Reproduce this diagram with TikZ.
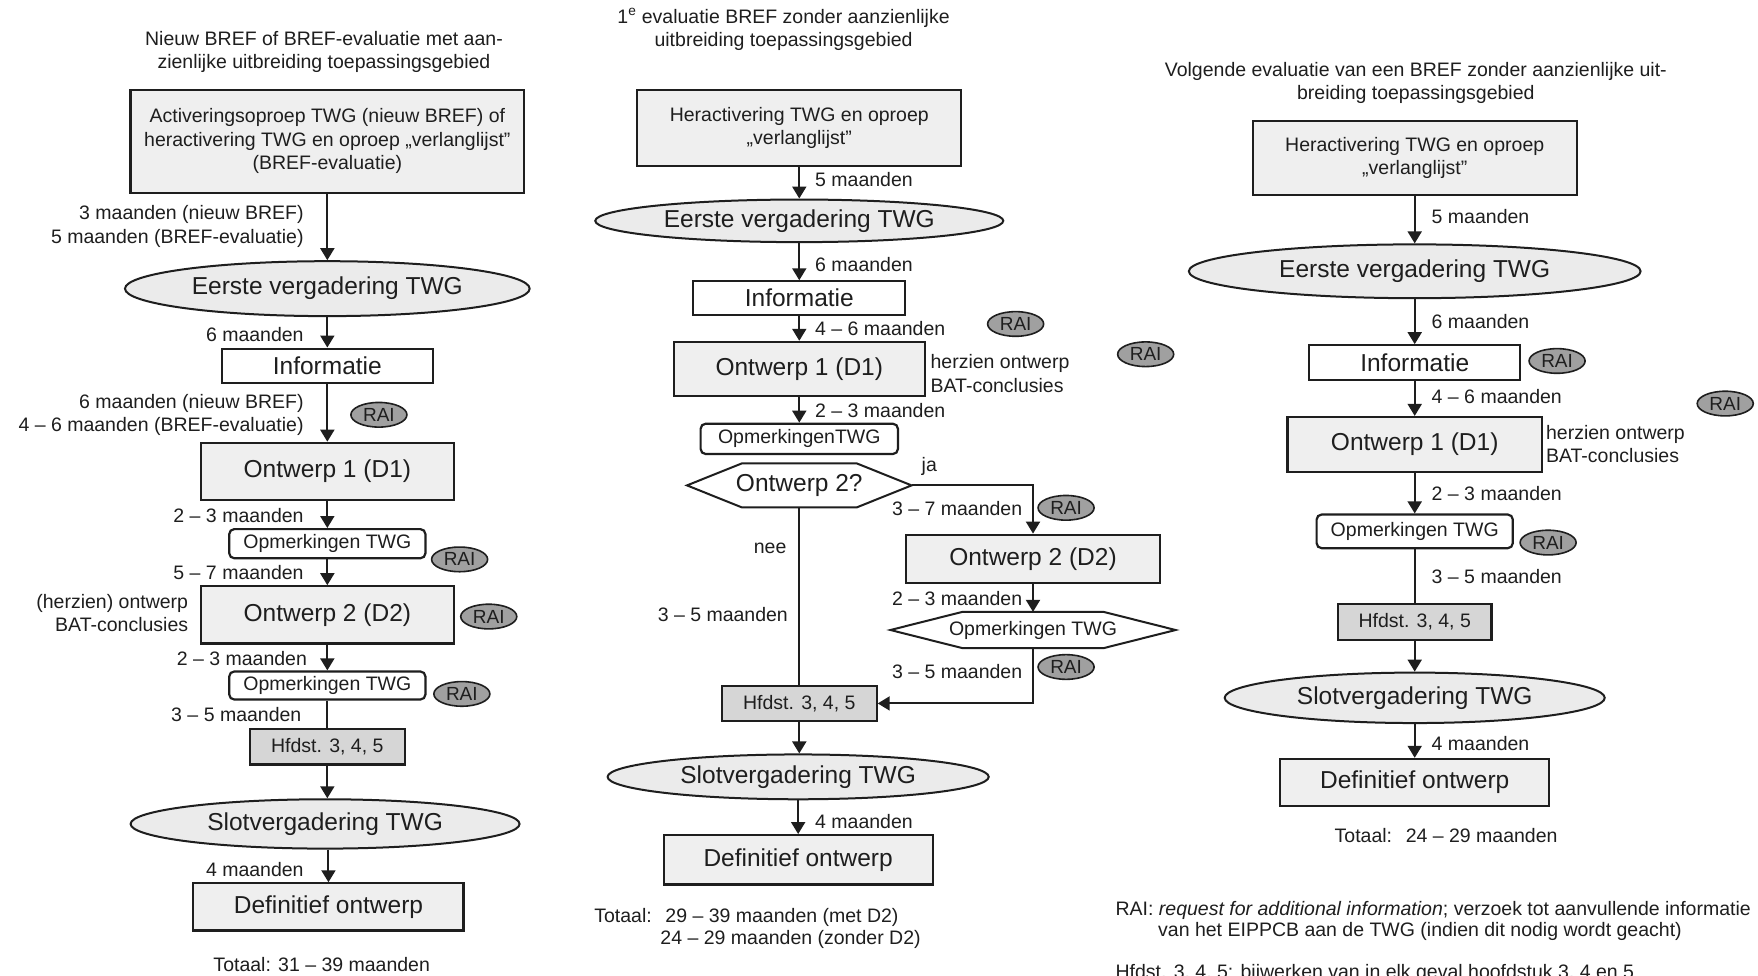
\documentclass[tikz,border=0pt]{standalone}
\usepackage{fontspec}
\setmainfont{Liberation Sans}
\usetikzlibrary{arrows.meta,shapes.geometric,calc}
\newcommand{\pxu}{*1.121pt}
\newcommand{\fsmall}{\fontsize{19.5}{23.5}\selectfont}
\newcommand{\fbig}{\fontsize{24.5}{28}\selectfont}
\newcommand{\fraitxt}{\fontsize{19}{20}\selectfont}
\definecolor{boxfill}{HTML}{EFEFEF}
\definecolor{ellfill}{HTML}{EBEBEB}
\definecolor{hfdstfill}{HTML}{D6D6D6}
\definecolor{raifill}{HTML}{A0A0A0}
\definecolor{ink}{HTML}{1E1E1E}
\tikzset{
  box/.style={draw=ink, line width=2.2pt, fill=boxfill, inner sep=0pt, align=center, font=\fsmall, text=ink},
  bigbox/.style={box, font=\fbig},
  wbox/.style={box, fill=white, font=\fbig},
  rbox/.style={box, fill=white, rounded corners=5pt},
  hbox/.style={box, fill=hfdstfill},
  ell/.style={ellipse, draw=ink, line width=2pt, fill=ellfill, inner sep=0pt, font=\fbig, text=ink},
  rai/.style={ellipse, draw=ink, line width=1.6pt, fill=raifill, inner sep=0pt,
    minimum width=50\pxu, minimum height=22\pxu, font=\fraitxt, text=ink},
  lbl/.style={inner sep=0pt, font=\fsmall, text=ink},
  hexa/.style={inner sep=0pt, text=ink},
  arr/.style={draw=ink, line width=2pt, -{Triangle[width=14pt,length=12pt]}},
  ln/.style={draw=ink, line width=2pt},
  hexline/.style={draw=ink, line width=2pt}
}
\begin{document}
\begin{tikzpicture}[x=1.121pt,y=-1.121pt]
\useasboundingbox[fill=white] (0,0) rectangle (1568.24,870.65);

% ---------------- LEFT COLUMN ----------------
\node[lbl, align=center] (Ltitle) at (289,46.5) {Nieuw BREF of BREF-evaluatie met aan-\\zienlijke uitbreiding toepassingsgebied};
\node[box, minimum width=351\pxu, minimum height=92\pxu] (LA) at (292,126)
  {Activeringsoproep TWG (nieuw BREF) of\\heractivering TWG en oproep „verlanglijst”\\(BREF-evaluatie)};
\node[ell, minimum width=361\pxu, minimum height=49\pxu] (LE1) at (292,257.5) {Eerste vergadering TWG};
\node[wbox, minimum width=188\pxu, minimum height=31\pxu] (LI) at (292,326.5) {Informatie};
\node[bigbox, minimum width=226\pxu, minimum height=51\pxu] (LO1) at (292,420.5) {Ontwerp 1 (D1)};
\node[rbox, minimum width=175\pxu, minimum height=26\pxu] (LOp1) at (292,485) {Opmerkingen TWG};
\node[bigbox, minimum width=226\pxu, minimum height=51\pxu] (LO2) at (292,548.5) {Ontwerp 2 (D2)};
\node[rbox, minimum width=175\pxu, minimum height=25\pxu] (LOp2) at (292,611.5) {Opmerkingen TWG};
\node[hbox, minimum width=138\pxu, minimum height=32\pxu] (LH) at (292,666) {Hfdst. 3, 4, 5};
\node[ell, minimum width=347\pxu, minimum height=44\pxu] (LE2) at (290,735) {Slotvergadering TWG};
\node[bigbox, minimum width=241\pxu, minimum height=42\pxu] (LD) at (293,809) {Definitief ontwerp};
\node[lbl] (LT) at (287,860) {Totaal: 31 – 39 maanden};

\node[lbl, align=right, anchor=east] (Ll1) at (271,202) {3 maanden (nieuw BREF)\\5 maanden (BREF-evaluatie)};
\node[lbl, anchor=east] (Ll2) at (271,298) {6 maanden};
\node[lbl, align=right, anchor=east] (Ll3) at (271,370) {6 maanden (nieuw BREF)\\4 – 6 maanden (BREF-evaluatie)};
\node[lbl, anchor=east] (Ll4) at (271,460) {2 – 3 maanden};
\node[lbl, anchor=east] (Ll5) at (271,511) {5 – 7 maanden};
\node[lbl, align=right, anchor=east] (Ll6) at (168,547) {(herzien) ontwerp\\BAT-conclusies};
\node[lbl, anchor=east] (Ll7) at (274,587) {2 – 3 maanden};
\node[lbl, anchor=east] (Ll8) at (269,637) {3 – 5 maanden};
\node[lbl, anchor=east] (Ll9) at (271,776) {4 maanden};

\node[rai] (Lr1) at (338,370) {RAI};
\node[rai] (Lr2) at (410,499) {RAI};
\node[rai] (Lr3) at (436,550) {RAI};
\node[rai] (Lr4) at (412,619) {RAI};

\draw[arr] (LA.south) -- (LE1.north);
\draw[arr] (LE1.south) -- (LI.north);
\draw[arr] (LI.south) -- (LO1.north);
\draw[arr] (LO1.south) -- (LOp1.north);
\draw[arr] (LOp1.south) -- (LO2.north);
\draw[arr] (LO2.south) -- (LOp2.north);
\draw[ln] (LOp2.south) -- (LH.north);
\draw[arr] (LH.south) -- (LH.south |- LE2.north);
\draw[arr] (LE2.south -| LD.north) -- (LD.north);

% ---------------- MIDDLE COLUMN ----------------
\node[lbl, align=center] (Mtitle) at (699,26.5) {1\textsuperscript{e} evaluatie BREF zonder aanzienlijke\\uitbreiding toepassingsgebied};
\node[box, minimum width=289\pxu, minimum height=68\pxu] (MA) at (713,114) {Heractivering TWG en oproep\\„verlanglijst”};
\node[ell, minimum width=364\pxu, minimum height=38\pxu] (ME1) at (713,197) {Eerste vergadering TWG};
\node[wbox, minimum width=189\pxu, minimum height=30\pxu] (MI) at (713,266) {Informatie};
\node[bigbox, minimum width=224\pxu, minimum height=48\pxu] (MO1) at (713,329) {Ontwerp 1 (D1)};
\node[rbox, minimum width=176\pxu, minimum height=27\pxu] (MOp) at (713,391.5) {OpmerkingenTWG};
\node[hexa, minimum width=200\pxu, minimum height=39\pxu, font=\fbig] (MQ) at (713,433) {Ontwerp 2?};
\draw[hexline] (MQ.west) -- ([xshift=55pt]MQ.north west) -- ([xshift=-55pt]MQ.north east)
  -- (MQ.east) -- ([xshift=-55pt]MQ.south east) -- ([xshift=55pt]MQ.south west) -- cycle;
\node[bigbox, minimum width=227\pxu, minimum height=43\pxu] (MO2) at (921.5,498.5) {Ontwerp 2 (D2)};
\node[hexa, minimum width=254\pxu, minimum height=32\pxu, font=\fsmall] (MOp2) at (921.5,562) {Opmerkingen TWG};
\draw[hexline] (MOp2.west) -- ([xshift=72pt]MOp2.north west) -- ([xshift=-72pt]MOp2.north east)
  -- (MOp2.east) -- ([xshift=-72pt]MOp2.south east) -- ([xshift=72pt]MOp2.south west) -- cycle;
\node[hbox, minimum width=138\pxu, minimum height=31\pxu] (MH) at (713,627.5) {Hfdst. 3, 4, 5};
\node[ell, minimum width=340\pxu, minimum height=40\pxu] (ME2) at (712,693) {Slotvergadering TWG};
\node[bigbox, minimum width=240\pxu, minimum height=44\pxu] (MD) at (712,767) {Definitief ontwerp};
\node[lbl, anchor=west] (MT1) at (530,818) {Totaal:\hspace{0.7em}29 – 39 maanden (met D2)};
\node[lbl, anchor=west] (MT2) at (589,838) {24 – 29 maanden (zonder D2)};

\node[lbl, anchor=west] (Ml1) at (727,160) {5 maanden};
\node[lbl, anchor=west] (Ml2) at (727,236) {6 maanden};
\node[lbl, anchor=west] (Ml3) at (727,293) {4 – 6 maanden};
\node[lbl, anchor=west] (Ml4) at (727,366) {2 – 3 maanden};
\node[lbl, anchor=west] (Ml5) at (727,733) {4 maanden};
\node[lbl, align=left, anchor=west] (Ml6) at (830,333) {herzien ontwerp\\BAT-conclusies};
\node[lbl] (Mja) at (829,416) {ja};
\node[lbl] (Mnee) at (687,489) {nee};
\node[lbl, anchor=east] (Ml7) at (912,454) {3 – 7 maanden};
\node[lbl, anchor=east] (Ml8) at (703,548) {3 – 5 maanden};
\node[lbl, anchor=east] (Ml9) at (912,534) {2 – 3 maanden};
\node[lbl, anchor=east] (Ml10) at (912,599) {3 – 5 maanden};

\node[rai] (Mr1) at (906,289) {RAI};
\node[rai] (Mr2) at (1022,316) {RAI};
\node[rai] (Mr3) at (951,453) {RAI};
\node[rai] (Mr4) at (951,595) {RAI};

\draw[arr] (MA.south) -- (ME1.north);
\draw[arr] (ME1.south) -- (MI.north);
\draw[arr] (MI.south) -- (MO1.north);
\draw[arr] (MO1.south) -- (MOp.north);
\draw[arr] (MQ.east) -| (MO2.north);
\draw[ln] (MQ.south) -- (MH.north);
\draw[arr] (MO2.south) -- (MOp2.north);
\draw[arr] (MOp2.south) |- (MH.east);
\draw[arr] (MH.south) -- (MH.south |- ME2.north);
\draw[arr] (ME2.south -| MD.north) -- (MD.north);

% ---------------- RIGHT COLUMN ----------------
\node[lbl, align=center] (Rtitle) at (1263,74) {Volgende evaluatie van een BREF zonder aanzienlijke uit-\\breiding toepassingsgebied};
\node[box, minimum width=289\pxu, minimum height=66\pxu] (RA) at (1262,141) {Heractivering TWG en oproep\\„verlanglijst”};
\node[ell, minimum width=403\pxu, minimum height=48\pxu] (RE1) at (1262,242) {Eerste vergadering TWG};
\node[wbox, minimum width=188\pxu, minimum height=31\pxu] (RI) at (1262,323.5) {Informatie};
\node[bigbox, minimum width=227\pxu, minimum height=49\pxu] (RO1) at (1262,396.5) {Ontwerp 1 (D1)};
\node[rbox, minimum width=175\pxu, minimum height=30\pxu] (ROp) at (1262,474) {Opmerkingen TWG};
\node[hbox, minimum width=137\pxu, minimum height=32\pxu] (RH) at (1262,555) {Hfdst. 3, 4, 5};
\node[ell, minimum width=339\pxu, minimum height=45\pxu] (RE2) at (1262,622.5) {Slotvergadering TWG};
\node[bigbox, minimum width=240\pxu, minimum height=42\pxu] (RD) at (1262,698) {Definitief ontwerp};
\node[lbl] (RT) at (1290,745) {Totaal:\hspace{0.7em}24 – 29 maanden};

\node[lbl, anchor=west] (Rl1) at (1277,193) {5 maanden};
\node[lbl, anchor=west] (Rl2) at (1277,287) {6 maanden};
\node[lbl, anchor=west] (Rl3) at (1277,354) {4 – 6 maanden};
\node[lbl, anchor=west] (Rl4) at (1277,440) {2 – 3 maanden};
\node[lbl, anchor=west] (Rl5) at (1277,514) {3 – 5 maanden};
\node[lbl, anchor=west] (Rl6) at (1277,663) {4 maanden};
\node[lbl, align=left, anchor=west] (Rl7) at (1379,396) {herzien ontwerp\\BAT-conclusies};

\node[rai] (Rr1) at (1389,322) {RAI};
\node[rai] (Rr2) at (1539,360) {RAI};
\node[rai] (Rr3) at (1381,484) {RAI};

\draw[arr] (RA.south) -- (RE1.north);
\draw[arr] (RE1.south) -- (RI.north);
\draw[arr] (RI.south) -- (RO1.north);
\draw[arr] (RO1.south) -- (ROp.north);
\draw[ln] (ROp.south) -- (RH.north);
\draw[arr] (RH.south) -- (RE2.north);
\draw[arr] (RE2.south) -- (RD.north);

% ---------------- FOOTNOTES ----------------
\node[lbl, anchor=west] (F1) at (995,812) {RAI: \textit{request for additional information}; verzoek tot aanvullende informatie};
\node[lbl, anchor=west] (F2) at (1033,831) {van het EIPPCB aan de TWG (indien dit nodig wordt geacht)};
\node[lbl, anchor=west] (F3) at (995,868) {Hfdst. 3, 4, 5: bijwerken van in elk geval hoofdstuk 3, 4 en 5};
\end{tikzpicture}
\end{document}
